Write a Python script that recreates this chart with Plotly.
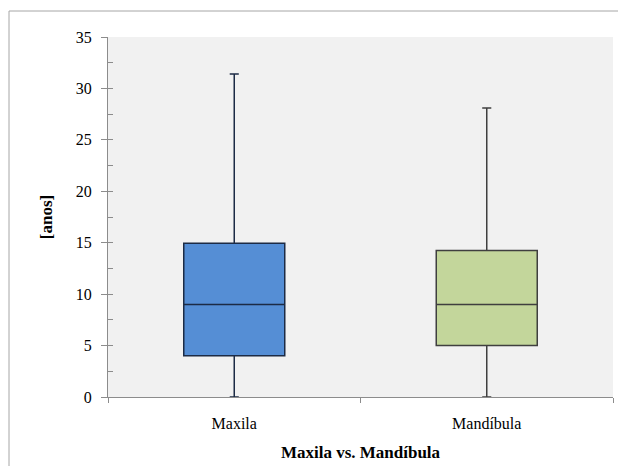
import plotly.graph_objects as go

categories = ["Maxila", "Mandíbula"]
q1 = [4.0, 5.0]
median = [9.0, 9.0]
q3 = [14.95, 14.25]
lower = [0.0, 0.0]
upper = [31.4, 28.1]
fills = ["#558ed5", "#c3d69b"]
lines = ["#1c2b45", "#3f3f3f"]
y_ticks = [0, 5, 10, 15, 20, 25, 30, 35]

fig = go.Figure()
for i, c in enumerate(categories):
    fig.add_trace(go.Box(
        x=[c], q1=[q1[i]], median=[median[i]], q3=[q3[i]],
        lowerfence=[lower[i]], upperfence=[upper[i]],
        fillcolor=fills[i], line=dict(color=lines[i], width=1.5),
        width=0.4, whiskerwidth=0.09, boxpoints=False, showlegend=False,
        hoverinfo="skip",
    ))

# invisible trace on overlay axis for inside minor ticks
fig.add_trace(go.Scatter(x=[None], y=[None], yaxis="y2", showlegend=False))

font = "Liberation Serif, Times New Roman, serif"
fig.update_layout(
    width=618, height=466,
    margin=dict(l=108, r=5, t=37, b=69),
    paper_bgcolor="white",
    plot_bgcolor="#f1f1f1",
    font=dict(family=font, size=14, color="#000000"),
    xaxis=dict(
        type="category", categoryorder="array", categoryarray=categories,
        range=[-0.5, 1.5], showgrid=False, zeroline=False,
        showline=True, linecolor="#8c8c8c", linewidth=1,
        ticks="outside", ticklen=5, tickcolor="#8c8c8c", tickson="boundaries",
        ticklabelstandoff=12,
        tickfont=dict(family=font, size=16),
        title=dict(text="<b>Maxila vs. Mandíbula</b>", font=dict(family=font, size=17), standoff=14),
    ),
    yaxis=dict(
        range=[0, 35], tickvals=y_ticks, showgrid=False, zeroline=False,
        showline=True, linecolor="#8c8c8c", linewidth=1,
        ticks="outside", ticklen=6, tickcolor="#8c8c8c",
        ticklabelstandoff=6,
        tickfont=dict(family=font, size=16),
        title=dict(text="<b>[anos]</b>", font=dict(family=font, size=17), standoff=18),
    ),
    yaxis2=dict(
        range=[0, 35], overlaying="y", side="left", dtick=2.5, tick0=0,
        showticklabels=False, showgrid=False, zeroline=False, showline=False,
        ticks="inside", ticklen=5, tickcolor="#8c8c8c",
    ),
    shapes=[dict(
        type="rect", xref="paper", yref="paper",
        x0=(9 - 108) / 505, x1=1.2, y0=-0.5, y1=1 + (37 - 11) / 360,
        line=dict(color="#a6a6a6", width=1), fillcolor="rgba(0,0,0,0)", layer="below",
    )],
)

fig.write_html("out.html", config={"displayModeBar": False},
               post_script="document.body.style.margin='0px';")
